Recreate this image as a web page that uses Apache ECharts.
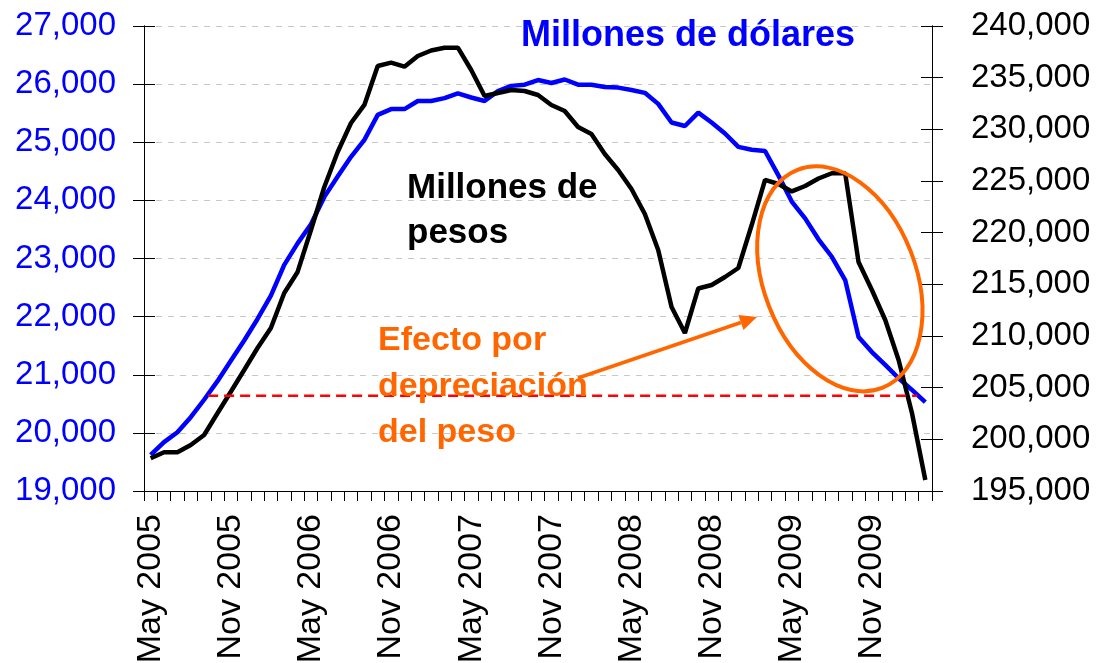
<!DOCTYPE html>
<html>
<head>
<meta charset="utf-8">
<script src="https://cdn.jsdelivr.net/npm/echarts@6.0.0/dist/echarts.min.js"></script>
<style>
html,body{margin:0;padding:0;background:#fff;}
#chart{width:1101px;height:663px;}
</style>
</head>
<body>
<div id="chart"></div>
<script>
// ---- data ----
var categories = [
 'May 2005','Jun 2005','Jul 2005','Aug 2005','Sep 2005','Oct 2005','Nov 2005','Dec 2005',
 'Jan 2006','Feb 2006','Mar 2006','Apr 2006','May 2006','Jun 2006','Jul 2006','Aug 2006','Sep 2006','Oct 2006','Nov 2006','Dec 2006',
 'Jan 2007','Feb 2007','Mar 2007','Apr 2007','May 2007','Jun 2007','Jul 2007','Aug 2007','Sep 2007','Oct 2007','Nov 2007','Dec 2007',
 'Jan 2008','Feb 2008','Mar 2008','Apr 2008','May 2008','Jun 2008','Jul 2008','Aug 2008','Sep 2008','Oct 2008','Nov 2008','Dec 2008',
 'Jan 2009','Feb 2009','Mar 2009','Apr 2009','May 2009','Jun 2009','Jul 2009','Aug 2009','Sep 2009','Oct 2009','Nov 2009','Dec 2009',
 'Jan 2010','Feb 2010','Mar 2010'
];
// Millones de dólares (left axis)
var dolares = [
 19620,19840,20010,20270,20570,20890,21240,21590,21960,22360,22890,23260,23590,24060,24410,24750,
 25040,25470,25570,25570,25710,25710,25760,25840,25770,25710,25880,25970,25990,26070,26020,26080,
 25990,25990,25950,25940,25900,25850,25660,25340,25280,25510,25340,25150,24920,24870,24850,24430,
 23980,23690,23330,23030,22630,21650,21390,21170,20940,20740,20530
];
// Millones de pesos (right axis)
var pesos = [
 198170,198750,198750,199450,200420,202520,204610,206710,208840,210780,214160,216200,220260,224420,227810,230610,
 232360,236130,236450,236060,237100,237630,237900,237900,235740,233230,233520,233810,233710,233320,232360,231780,
 230230,229550,227610,226070,224230,221810,218320,212810,210290,214600,214940,215710,216580,220740,225100,224710,
 223990,224520,225240,225750,225750,217160,214450,211550,207680,202550,196070
];
// reference level of the dollar series (red dashed line) and its span in category positions
var refLevel = 20640;
var refSpan = [4.3, 57.4];
// tick labels / axis ranges
var leftAxisRange = [19000, 27000, 1000];
var rightAxisRange = [195000, 240000, 5000];
var labelEvery = 6;

var FONT = "'Liberation Sans', Arial, sans-serif";
var chart = echarts.init(document.getElementById('chart'), null, {renderer: 'canvas'});

function yAx(pos, range, opts) {
  return Object.assign({
    type: 'value', position: pos, min: range[0], max: range[1], interval: range[2],
    axisLine: {show: true, lineStyle: {color: '#000', width: 1}},
    axisTick: {show: true, inside: false, length: 11, lineStyle: {color: '#000', width: 1}},
    splitLine: {show: false},
    axisLabel: {show: false}
  }, opts);
}

var option = {
  backgroundColor: '#fff',
  animation: false,
  grid: {left: 144, right: 169, top: 26, bottom: 172, containLabel: false, outerBoundsMode: 'none'},
  xAxis: {
    type: 'category', data: categories, boundaryGap: true,
    axisLine: {show: true, lineStyle: {color: '#000', width: 1}},
    axisTick: {show: true, interval: 0, length: 10, lineStyle: {color: '#000', width: 1}},
    axisLabel: {interval: labelEvery - 1, rotate: 90, margin: 23, color: '#000',
      fontSize: 34, fontFamily: FONT}
  },
  yAxis: [
    yAx('left', leftAxisRange, {
      axisLabel: {show: true, color: '#0000FF', fontSize: 33, fontFamily: FONT, margin: 28},
      splitLine: {show: true, lineStyle: {color: '#c8c8c8', width: 1, type: [6, 6]}}
    }),
    yAx('right', rightAxisRange, {
      axisLabel: {show: true, color: '#000', fontSize: 33, fontFamily: FONT, margin: 39}
    }),
    yAx('left', leftAxisRange, {axisTick: {show: true, inside: true, length: 11, lineStyle: {color: '#000', width: 1}}}),
    yAx('right', rightAxisRange, {axisTick: {show: true, inside: true, length: 11, lineStyle: {color: '#000', width: 1}}})
  ],
  series: [
    {name: 'Millones de dólares', type: 'line', yAxisIndex: 0, data: dolares, symbol: 'none',
     lineStyle: {color: '#0000FF', width: 4.5}, z: 3},
    {name: 'Millones de pesos', type: 'line', yAxisIndex: 1, data: pesos, symbol: 'none',
     lineStyle: {color: '#000000', width: 4.5}, z: 4}
  ]
};
chart.setOption(option);

// ---- annotations placed from data coordinates ----
function px(idx, val) {
  var i0 = Math.floor(idx), f = idx - i0;
  var a = chart.convertToPixel({xAxisIndex: 0, yAxisIndex: 0}, [i0, val]);
  var b = chart.convertToPixel({xAxisIndex: 0, yAxisIndex: 0}, [i0 + 1, val]);
  return [a[0] + (b[0] - a[0]) * f, a[1]];
}
var r0 = px(refSpan[0], refLevel), r1 = px(refSpan[1], refLevel);
var ORANGE = '#FF6600';
var ellC = px(51.6, 22650);
var arrowStart = [578, 378], arrowEnd = [757, 317];
var ang = Math.atan2(arrowEnd[1] - arrowStart[1], arrowEnd[0] - arrowStart[0]);
var hl = 17, hw = 8;
var base = [arrowEnd[0] - hl * Math.cos(ang), arrowEnd[1] - hl * Math.sin(ang)];
var head = [
  arrowEnd,
  [base[0] + hw * Math.sin(ang), base[1] - hw * Math.cos(ang)],
  [base[0] - hw * Math.sin(ang), base[1] + hw * Math.cos(ang)]
];

function txt(x, y, s, color, size) {
  return {type: 'text', x: x, y: y, z: 100,
    style: {text: s, fill: color, font: 'bold ' + size + 'px ' + FONT, textAlign: 'left', textVerticalAlign: 'middle'}};
}
chart.setOption({
  graphic: [
    {type: 'line', z: 50, shape: {x1: r0[0], y1: r0[1], x2: r1[0], y2: r1[1]},
     style: {stroke: '#FF0000', lineWidth: 2.5, lineDash: [10, 6]}},
    {type: 'ellipse', z: 60, x: ellC[0], y: ellC[1], rotation: 0.37,
     shape: {cx: 0, cy: 0, rx: 76, ry: 117},
     style: {fill: 'none', stroke: ORANGE, lineWidth: 4}},
    {type: 'line', z: 60, shape: {x1: arrowStart[0], y1: arrowStart[1], x2: base[0], y2: base[1]},
     style: {stroke: ORANGE, lineWidth: 3.5}},
    {type: 'polygon', z: 60, shape: {points: head}, style: {fill: ORANGE}},
    txt(521, 36, 'Millones de dólares', '#0000FF', 36),
    txt(407, 188, 'Millones de', '#000', 35),
    txt(407, 233, 'pesos', '#000', 35),
    txt(378, 341, 'Efecto por', ORANGE, 34),
    txt(378, 387, 'depreciación', ORANGE, 34),
    txt(378, 433, 'del peso', ORANGE, 34)
  ]
});
</script>
</body>
</html>
